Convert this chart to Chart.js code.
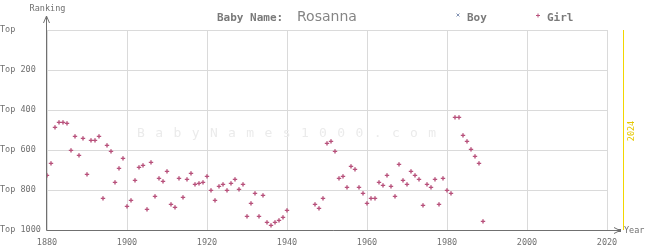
<!DOCTYPE html>
<html>
<head>
<meta charset="utf-8">
<script src="https://cdn.jsdelivr.net/npm/chart.js@4"></script>
<style>
  html, body { margin: 0; padding: 0; background: #fff; }
  #wrap { width: 645px; height: 250px; }
</style>
</head>
<body>
<div id="wrap"><canvas id="chart" width="645" height="250"></canvas></div>
<script>
// dados (ranking da menina "Rosanna")
const girlYears = [
  1880, 1881, 1882, 1883, 1884, 1885, 1886, 1887, 1888, 1889,
  1890, 1891, 1892, 1893, 1894, 1895, 1896, 1897, 1898, 1899,
  1900, 1901, 1902, 1903, 1904, 1905, 1906, 1907, 1908, 1909,
  1910, 1911, 1912, 1913, 1914, 1915, 1916, 1917, 1918, 1919,
  1920, 1921, 1922, 1923, 1924, 1925, 1926, 1927, 1928, 1929,
  1930, 1931, 1932, 1933, 1934, 1935, 1936, 1937, 1938, 1939,
  1940, 1947, 1948, 1949,
  1950, 1951, 1952, 1953, 1954, 1955, 1956, 1957, 1958, 1959,
  1960, 1961, 1962, 1963, 1964, 1965, 1966, 1967, 1968, 1969,
  1970, 1971, 1972, 1973, 1974, 1975, 1976, 1977, 1978, 1979,
  1980, 1981, 1982, 1983, 1984, 1985, 1986, 1987, 1988, 1989
]
const girlRanks = [
  727, 667, 487, 462, 462, 467, 602, 532, 627, 542,
  722, 552, 552, 532, 842, 577, 607, 762, 692, 642,
  882, 852, 752, 687, 677, 897, 662, 832, 742, 757,
  707, 872, 887, 742, 837, 747, 717, 772, 767, 762,
  732, 802, 852, 782, 772, 802, 767, 747, 797, 772,
  932, 867, 817, 932, 827, 962, 977, 962, 952, 937,
  902, 872, 892, 842,
  567, 557, 607, 742, 732, 787, 682, 697, 787, 817,
  867, 842, 842, 762, 777, 727, 782, 832, 672, 752,
  772, 707, 727, 747, 877, 772, 787, 747, 872, 742,
  802, 817, 437, 437, 527, 557, 597, 632, 667, 957
]
const boyYears = []
const boyRanks = []

const yearTicks = [1880, 1900, 1920, 1940, 1960, 1980, 2000, 2020]
const rankTicks = [0, 200, 400, 600, 800, 1000]
const currentYear = 2024

const girlColor = '#b8527c'
const boyColor = '#8494b4'
const mono = '"DejaVu Sans Mono", monospace'

const extras = {
  id: 'extras',
  beforeDatasetsDraw(chart) {
    const ctx = chart.ctx
    // marca d'água
    ctx.save()
    ctx.font = '13px ' + mono
    ctx.fillStyle = '#ebebeb'
    ctx.textAlign = 'center'
    ctx.textBaseline = 'middle'
    const mark = 'BabyNames1000.com'
    for (let i = 0; i < mark.length; i++) {
      ctx.fillText(mark[i], 141 + i * 18.2, 134)
    }
    ctx.restore()
  },
  afterDraw(chart) {
    const ctx = chart.ctx
    const area = chart.chartArea
    const xs = chart.scales.x
    ctx.save()

    // linha do ano atual
    const xNow = Math.round(xs.getPixelForValue(currentYear)) + 0.5
    ctx.strokeStyle = '#f2d600'
    ctx.lineWidth = 1
    ctx.beginPath()
    ctx.moveTo(xNow, area.top)
    ctx.lineTo(xNow, area.bottom)
    ctx.stroke()
    ctx.save()
    ctx.translate(xNow + 8, 131)
    ctx.rotate(-Math.PI / 2)
    ctx.font = '8.5px ' + mono
    ctx.fillStyle = '#e6c800'
    ctx.textAlign = 'center'
    ctx.textBaseline = 'middle'
    ctx.fillText(String(currentYear), 0, 0)
    ctx.restore()

    // eixos com setas
    ctx.strokeStyle = '#707070'
    ctx.lineWidth = 1
    const ax = Math.round(area.left) - 0.5
    const ay = Math.round(area.bottom) + 0.5
    ctx.beginPath()
    ctx.moveTo(ax, ay)
    ctx.lineTo(ax, 16)
    ctx.moveTo(ax - 3, 23)
    ctx.lineTo(ax, 16)
    ctx.lineTo(ax + 3, 23)
    ctx.moveTo(ax, ay)
    ctx.lineTo(620, ay)
    ctx.moveTo(614, ay - 3)
    ctx.lineTo(620, ay)
    ctx.lineTo(614, ay + 3)
    ctx.stroke()
    ctx.fillStyle = '#707070'
    ctx.fillRect(618, ay - 1.5, 3, 3)

    ctx.font = '8.5px ' + mono
    ctx.fillStyle = '#707070'
    ctx.textBaseline = 'middle'
    ctx.textAlign = 'center'
    ctx.fillText('Ranking', ax + 1, 9)
    ctx.textAlign = 'left'
    ctx.fillText('Year', 624, ay)

    // título
    ctx.textBaseline = 'alphabetic'
    ctx.font = 'bold 11px ' + mono
    ctx.fillStyle = '#7a7a7a'
    ctx.fillText('Baby Name:', 217, 21)
    ctx.font = '14px "DejaVu Sans", sans-serif'
    ctx.fillStyle = '#858585'
    ctx.fillText('Rosanna', 297, 21)

    // legenda
    ctx.font = 'bold 11px ' + mono
    ctx.fillStyle = '#7a7a7a'
    ctx.fillText('Boy', 467, 21)
    ctx.fillText('Girl', 547, 21)
    ctx.lineWidth = 1
    ctx.strokeStyle = boyColor
    ctx.beginPath()
    ctx.moveTo(456.5, 13.5); ctx.lineTo(459.5, 16.5)
    ctx.moveTo(459.5, 13.5); ctx.lineTo(456.5, 16.5)
    ctx.stroke()
    ctx.strokeStyle = girlColor
    ctx.beginPath()
    ctx.moveTo(536, 15.5); ctx.lineTo(540, 15.5)
    ctx.moveTo(538, 13.5); ctx.lineTo(538, 17.5)
    ctx.stroke()
    ctx.restore()
  }
}

const ctx = document.getElementById('chart').getContext('2d')

new Chart(ctx, {
  type: 'scatter',
  data: {
    datasets: [
      {
        label: 'Boy',
        data: boyYears.map((y, i) => ({ x: y, y: boyRanks[i] })),
        pointStyle: 'crossRot',
        pointRadius: 2,
        borderColor: boyColor,
        borderWidth: 1
      },
      {
        label: 'Girl',
        data: girlYears.map((y, i) => ({ x: y, y: girlRanks[i] })),
        pointStyle: 'cross',
        pointRadius: 2.2,
        borderColor: girlColor,
        backgroundColor: girlColor,
        borderWidth: 1.4
      }
    ]
  },
  options: {
    responsive: false,
    animation: false,
    events: [],
    layout: { padding: { top: 30, right: 38, left: 0, bottom: 0 } },
    plugins: {
      legend: { display: false },
      tooltip: { enabled: false }
    },
    scales: {
      x: {
        type: 'linear',
        min: 1880,
        max: 2020,
        afterBuildTicks(scale) {
          scale.ticks = yearTicks.map(v => ({ value: v }))
        },
        afterFit(scale) { scale.height = 20 },
        grid: { color: '#dadada', lineWidth: 1, drawTicks: false },
        border: { display: false },
        ticks: {
          padding: 8,
          maxRotation: 0,
          color: '#707070',
          font: { family: mono, size: 8.5 },
          callback: v => String(v)
        }
      },
      y: {
        type: 'linear',
        reverse: true,
        min: 0,
        max: 1000,
        afterBuildTicks(scale) {
          scale.ticks = rankTicks.map(v => ({ value: v }))
        },
        afterFit(scale) { scale.width = 47 },
        grid: { color: '#dadada', lineWidth: 1, drawTicks: false },
        border: { display: false },
        ticks: {
          crossAlign: 'far',
          padding: 0,
          color: '#707070',
          font: { family: mono, size: 8.5 },
          callback: v => v === 0 ? 'Top' : 'Top ' + v
        }
      }
    }
  },
  plugins: [extras]
})
</script>
</body>
</html>
